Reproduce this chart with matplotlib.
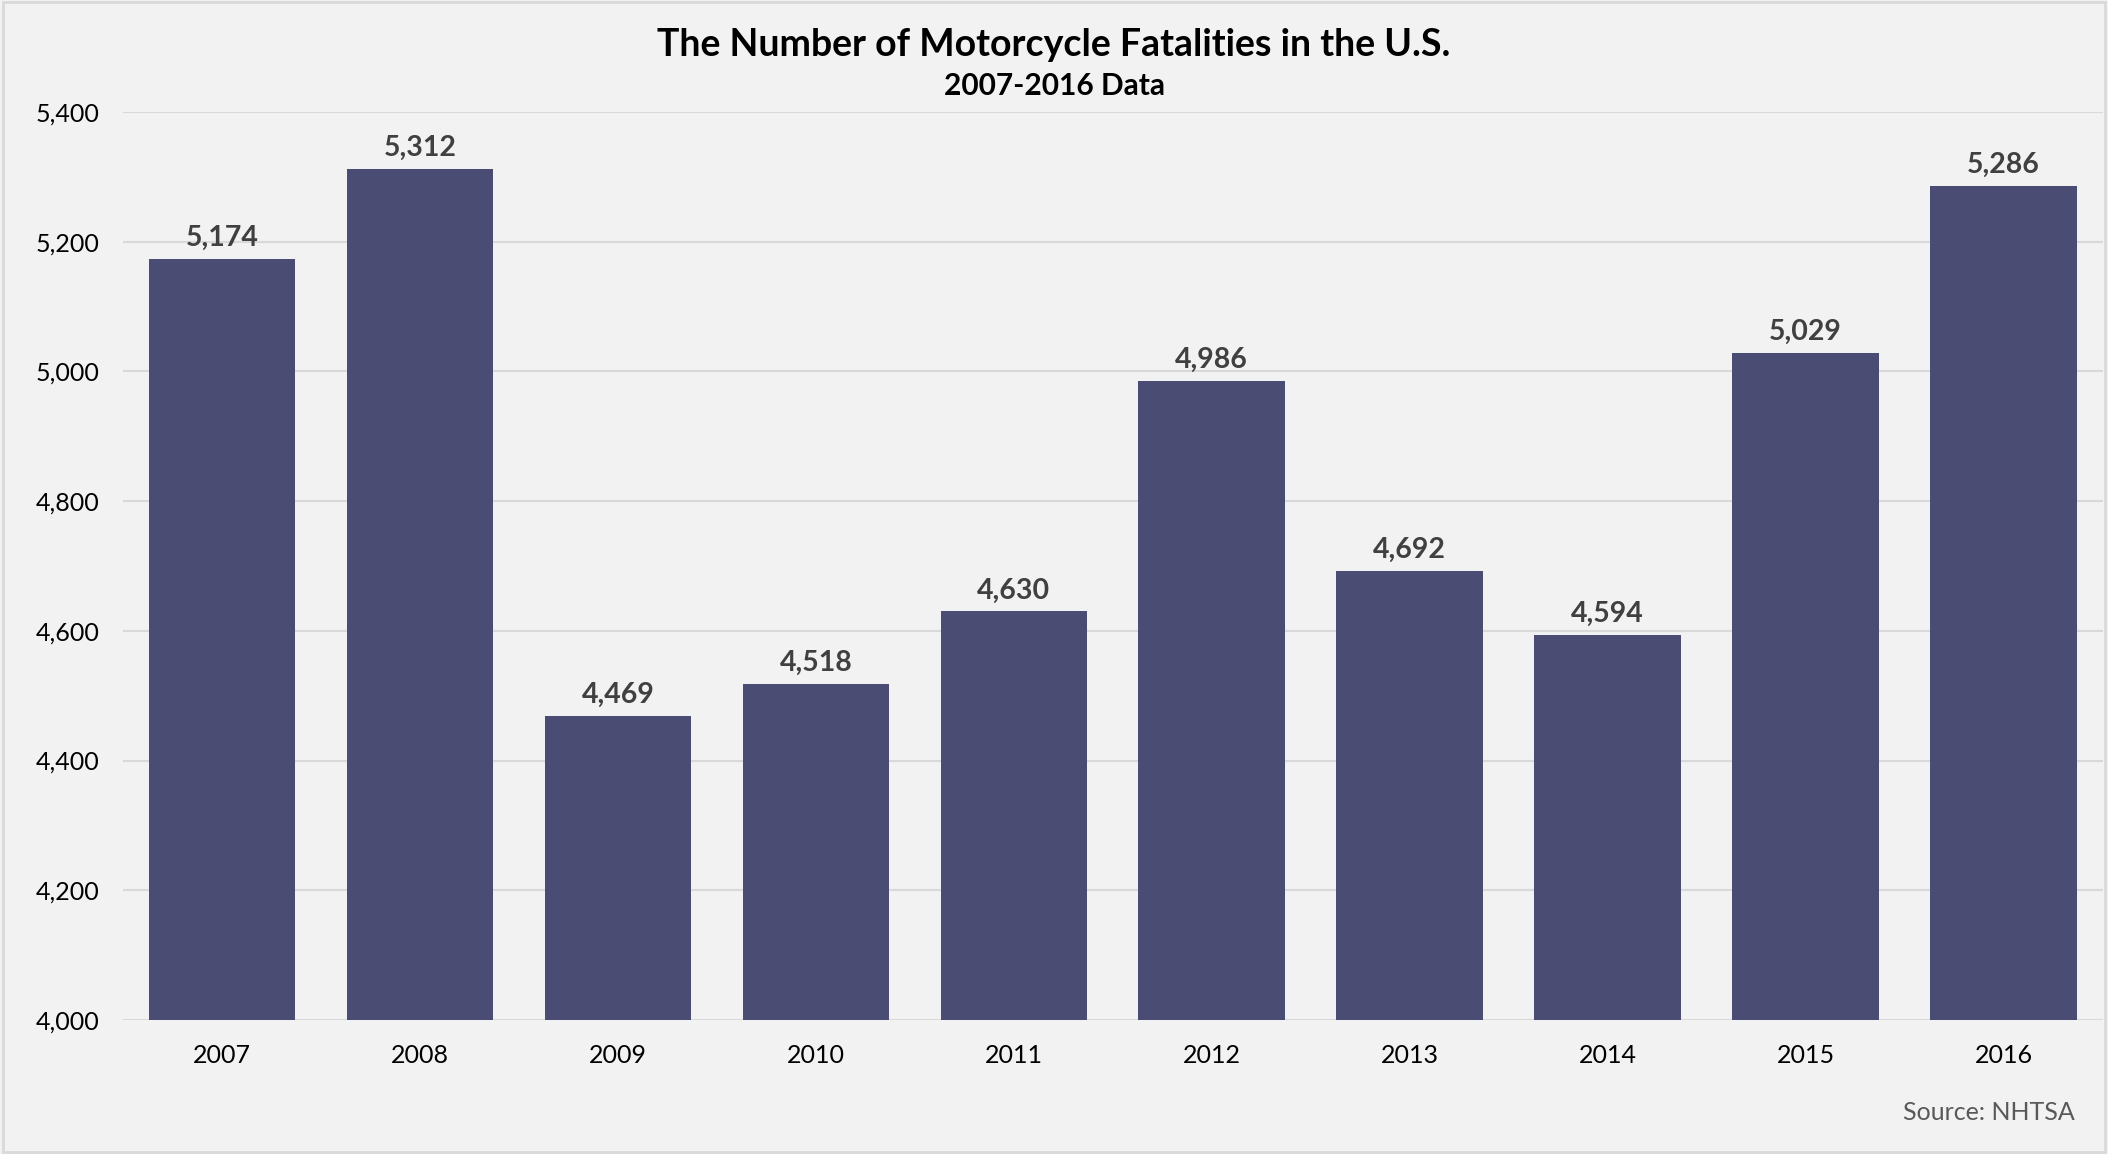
import matplotlib
matplotlib.use("Agg")
import matplotlib.pyplot as plt
from matplotlib.patches import Rectangle
from matplotlib.ticker import FuncFormatter

years = ["2007", "2008", "2009", "2010", "2011", "2012", "2013", "2014", "2015", "2016"]
fatalities = [5174, 5312, 4469, 4518, 4630, 4986, 4692, 4594, 5029, 5286]
y_ticks = [4000, 4200, 4400, 4600, 4800, 5000, 5200, 5400]

plt.rcParams['font.family'] = ['Lato', 'DejaVu Sans']

W, H = 2108, 1154
fig = plt.figure(figsize=(W / 100, H / 100), dpi=100)
fig.patch.set_facecolor('#f2f2f2')
fig.patches.append(Rectangle((0.0015, 0.002), 0.997, 0.996, transform=fig.transFigure,
                             fill=False, edgecolor='#d9d9d9', linewidth=2))

left, right = 123 / W, 2102.5 / W
bottom, top = 1 - 1020 / H, 1 - 112 / H
ax = fig.add_axes([left, bottom, right - left, top - bottom])
ax.set_facecolor('#f2f2f2')

x = list(range(len(years)))
bars = ax.bar(x, fatalities, width=0.74, color='#4a4c73', zorder=3)
ax.set_xlim(-0.5, len(years) - 0.5)
ax.set_ylim(4000, 5400)
ax.set_yticks(y_ticks)
ax.yaxis.set_major_formatter(FuncFormatter(lambda v, p: f"{int(v):,}"))
ax.set_xticks(x)
ax.set_xticklabels(years)
ax.grid(axis='y', color='#d9d9d9', linewidth=1.5, zorder=0)
for s in ax.spines.values():
    s.set_visible(False)
ax.tick_params(axis='both', length=0, labelsize=18, labelcolor='#000000')
ax.tick_params(axis='y', pad=17)
ax.tick_params(axis='x', pad=17)

for xi, v in zip(x, fatalities):
    ax.annotate(f"{v:,}", (xi, v), xytext=(0, 15), textcoords='offset points',
                ha='center', va='center', fontsize=20.5, fontweight='bold', color='#404040')

fig.text(0.5, 1 - 45 / H, "The Number of Motorcycle Fatalities in the U.S.",
         ha='center', va='center', fontsize=27, fontweight='bold', color='#000000')
fig.text(0.5, 1 - 86 / H, "2007-2016 Data",
         ha='center', va='center', fontsize=21.5, fontweight='bold', color='#000000')
fig.text(2075 / W, 1 - 1112 / H, "Source: NHTSA", ha='right', va='center',
         fontsize=18, color='#595959')

fig.savefig("out.png", dpi=100, facecolor=fig.get_facecolor())
